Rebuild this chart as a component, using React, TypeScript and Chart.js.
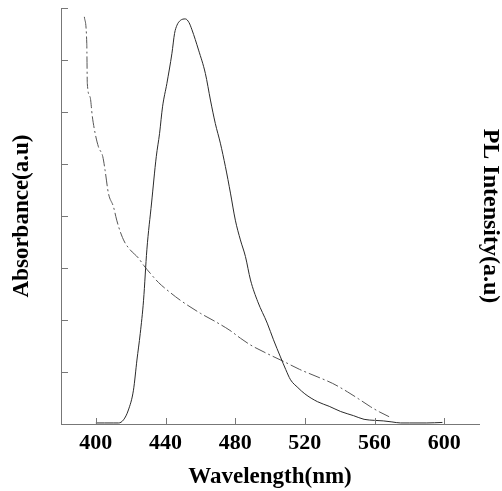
import React, { useEffect, useRef } from "react";
import { Chart, registerables } from "chart.js";

Chart.register(...registerables);

// PL emission (solid line)
const plWavelength = [400, 405, 410, 413, 415.9, 418.7, 421.6, 423.6, 425.5, 427.4, 429.3, 432, 434.7, 436.6, 438.3, 440.8, 443.7, 445.2, 446.6, 448.5, 451.4, 453.5, 455.2, 459, 462.9, 465.8, 468.6, 471.5, 474.4, 477.3, 480.1, 483, 485.9, 488.8, 493, 498.4, 502, 506, 509, 511.8, 516, 520, 527.2, 534, 540.6, 548, 554, 560, 565, 570, 575, 580, 590, 599];
const plIntensity = [0.02, 0.02, 0.02, 0.02, 0.08, 0.27, 0.65, 1.23, 1.74, 2.38, 3.35, 4.25, 5.14, 5.59, 6.1, 6.55, 7.13, 7.51, 7.67, 7.76, 7.79, 7.72, 7.58, 7.19, 6.74, 6.23, 5.78, 5.4, 4.95, 4.44, 3.92, 3.54, 3.22, 2.77, 2.35, 1.94, 1.62, 1.29, 1.05, 0.85, 0.7, 0.58, 0.43, 0.34, 0.24, 0.16, 0.09, 0.07, 0.06, 0.04, 0.02, 0.02, 0.02, 0.03];

// Absorbance (dash-dot line)
const absWavelength = [393.4, 394.8, 395.1, 396.7, 398, 399.6, 401.5, 404, 405.3, 407.2, 410.1, 412, 414, 416.5, 419.7, 424.5, 427.5, 431.2, 436, 440.8, 448.5, 460, 468.6, 477, 483, 488.8, 498, 508, 517, 527, 536, 544.4, 551, 557.8, 563, 568.4];
const absorbance = [7.83, 7.32, 6.55, 6.29, 5.91, 5.59, 5.33, 5.14, 4.88, 4.44, 4.18, 3.92, 3.7, 3.5, 3.35, 3.19, 3.05, 2.9, 2.72, 2.58, 2.38, 2.13, 1.97, 1.8, 1.65, 1.52, 1.36, 1.2, 1.05, 0.91, 0.78, 0.62, 0.48, 0.33, 0.23, 0.14];

const xTicks = [400, 440, 480, 520, 560, 600];
const yTicks = [0, 1, 2, 3, 4, 5, 6, 7, 8];

const axisColor = "#777777";
const serif = "'Liberation Serif', 'Times New Roman', serif";

const innerTicks = {
  id: "innerTicks",
  afterDraw(chart: any) {
    const { ctx, chartArea, scales } = chart;
    ctx.save();
    ctx.strokeStyle = axisColor;
    ctx.lineWidth = 1;
    xTicks.forEach((v) => {
      const px = Math.round(scales.x.getPixelForValue(v)) + 0.5;
      ctx.beginPath();
      ctx.moveTo(px, chartArea.bottom);
      ctx.lineTo(px, chartArea.bottom - 6);
      ctx.stroke();
    });
    yTicks.forEach((v) => {
      const py = Math.round(scales.y.getPixelForValue(v)) + 0.5;
      ctx.beginPath();
      ctx.moveTo(chartArea.left, py);
      ctx.lineTo(chartArea.left + 7, py);
      ctx.stroke();
    });
    ctx.restore();
  },
};

export default function App() {
  const ref = useRef<HTMLCanvasElement | null>(null);
  useEffect(() => {
    if (!ref.current) return;
    const chart = new Chart(ref.current, {
      type: "line",
      data: {
        datasets: [
          {
            label: "PL",
            data: plWavelength.map((x, i) => ({ x, y: plIntensity[i] })),
            borderColor: "#2a2a2a",
            borderWidth: 1,
            pointRadius: 0,
            cubicInterpolationMode: "monotone",
            yAxisID: "y",
          },
          {
            label: "Absorbance",
            data: absWavelength.map((x, i) => ({ x, y: absorbance[i] })),
            borderColor: "#555555",
            borderWidth: 1,
            borderDash: [12, 3, 2, 3],
            pointRadius: 0,
            cubicInterpolationMode: "monotone",
            yAxisID: "y",
          },
        ],
      },
      options: {
        responsive: false,
        animation: false,
        layout: { padding: { top: 8, left: 0, right: 0, bottom: 0 } },
        plugins: { legend: { display: false }, tooltip: { enabled: false } },
        scales: {
          x: {
            type: "linear",
            min: 380,
            max: 620,
            afterBuildTicks: (axis: any) => {
              axis.ticks = xTicks.map((value) => ({ value }));
            },
            afterFit: (s: any) => {
              s.height = 67;
            },
            grid: { display: false, drawTicks: false },
            border: { display: true, color: axisColor, width: 1 },
            ticks: {
              color: "#000",
              padding: 6,
              maxRotation: 0,
              font: { family: serif, size: 22, weight: "bold" },
            },
            title: {
              display: true,
              text: "Wavelength(nm)",
              color: "#000",
              padding: { top: 2, bottom: 0 },
              font: { family: serif, size: 23, weight: "bold", lineHeight: 1.2 },
            },
          },
          y: {
            type: "linear",
            position: "left",
            min: 0,
            max: 8,
            afterBuildTicks: (axis: any) => {
              axis.ticks = yTicks.map((value) => ({ value }));
            },
            afterFit: (s: any) => {
              s.width = 61;
            },
            grid: { display: false, drawTicks: false },
            border: { display: true, color: axisColor, width: 1 },
            ticks: { display: false },
            title: {
              display: true,
              text: "Absorbance(a.u)",
              color: "#000",
              padding: { top: 8, bottom: 0 },
              font: { family: serif, size: 23, weight: "bold", lineHeight: 1.2 },
            },
          },
          y1: {
            type: "linear",
            position: "right",
            min: 0,
            max: 8,
            afterFit: (s: any) => {
              s.width = 23;
            },
            grid: { display: false, drawTicks: false },
            border: { display: false },
            ticks: { display: false },
            title: {
              display: true,
              text: "PL Intensity(a.u)",
              color: "#000",
              padding: { top: 0, bottom: 0 },
              font: { family: serif, size: 24, weight: "bold", lineHeight: 0.95 },
            },
          },
        },
      },
      plugins: [innerTicks],
    } as any);
    return () => chart.destroy();
  }, []);
  return (
    <div style={{ position: "absolute", left: 0, top: 0, width: 502, height: 491, background: "#fff" }}>
      <canvas ref={ref} width={502} height={491} style={{ display: "block" }} />
    </div>
  );
}
